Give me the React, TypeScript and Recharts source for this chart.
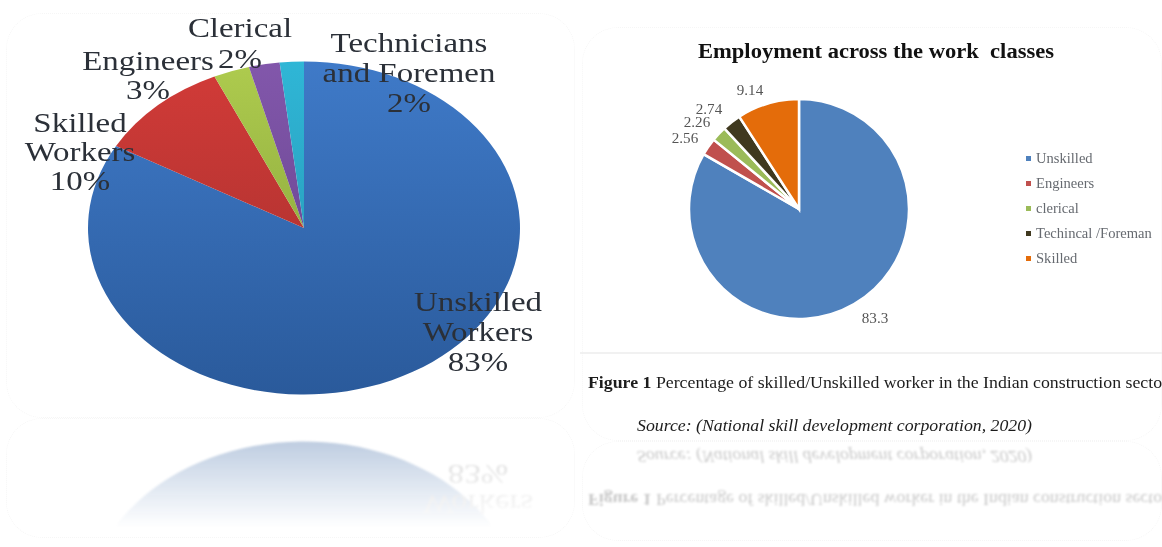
import React from 'react';
import { Cell, Legend, Pie, PieChart } from 'recharts';

const W = 1162;
const H = 547;
const SERIF = '"Liberation Serif", serif';

// left picture, clockwise from 12 o'clock. printed labels are rounded
const leftNames = ['Unskilled Workers', 'Skilled Workers', 'Engineers', 'Clerical', 'Technicians and Foremen'];
const leftValues = [83.2, 10, 2.7, 2.3, 1.8];
const leftLines = [
	['Unskilled', 'Workers', '83%'],
	['Skilled', 'Workers', '10%'],
	['Engineers', '3%'],
	['Clerical', '2%'],
	['Technicians', 'and Foremen', '2%'],
];
const leftTop = ['#3f7ac8', '#d23b38', '#aecb4e', '#8257ab', '#2fb6d6'];
const leftBottom = ['#2a5a9b', '#a02e2c', '#7d9a36', '#5f3f86', '#2590ad'];

// right picture
const rightNames = ['Unskilled', 'Engineers', 'clerical', 'Techincal /Foreman', 'Skilled'];
const rightValues = [83.3, 2.56, 2.26, 2.74, 9.14];
const rightColors = ['#4f81bd', '#c0504d', '#9bbb59', '#40391f', '#e46c0a'];

const leftData = leftNames.map((name, i) => ({ name, value: leftValues[i] }));
const rightData = rightNames.map((name, i) => ({ name, value: rightValues[i] }));

// where each wrapped label sits: centre x, first baseline, line step
const leftSpots = [
	[478, 311, 30],
	[80, 132, 29],
	[148, 70, 29],
	[240, 37, 31],
	[409, 52, 30],
];
const rightSpots = [
	[875, 323],
	[685, 143],
	[697, 127],
	[709, 114],
	[750, 95],
];

const SQUASH = 0.771;

// pie looks tilted in the source, so slices are drawn as ellipse sectors
function EllipseSlice(props: any) {
	const { cx, cy, outerRadius, startAngle, endAngle, fill } = props;
	const rx = outerRadius;
	const ry = outerRadius * SQUASH;
	const rad = Math.PI / 180;
	const x1 = cx + rx * Math.cos(startAngle * rad);
	const y1 = cy - ry * Math.sin(startAngle * rad);
	const x2 = cx + rx * Math.cos(endAngle * rad);
	const y2 = cy - ry * Math.sin(endAngle * rad);
	const large = Math.abs(startAngle - endAngle) > 180 ? 1 : 0;
	return <path d={`M${cx} ${cy} L${x1} ${y1} A${rx} ${ry} 0 ${large} 1 ${x2} ${y2} Z`} fill={fill} />;
}

function LeftLabel(props: any) {
	const [x, y, step] = leftSpots[props.index];
	return (
		<g>
			{leftLines[props.index].map((line, i) => (
				<text
					key={line}
					transform={`translate(${x},${y + i * step}) scale(1.22,1)`}
					textAnchor="middle"
					fontFamily={SERIF}
					fontSize={27}
					fill="#2b3038"
				>
					{line}
				</text>
			))}
		</g>
	);
}

// the reflection only shows the bottom label, and only its last two lines
function MirrorLabel(props: any) {
	if (props.index !== 0) return null;
	const [x, y, step] = leftSpots[0];
	return (
		<g>
			{leftLines[0].slice(1).map((line, i) => (
				<text
					key={line}
					transform={`translate(${x},${y + (i + 1) * step}) scale(1.22,1)`}
					textAnchor="middle"
					fontFamily={SERIF}
					fontSize={27}
					fill="#777"
				>
					{line}
				</text>
			))}
		</g>
	);
}

function RightLabel(props: any) {
	const [x, y] = rightSpots[props.index];
	return (
		<text
			transform={`translate(${x},${y}) scale(1.08,1)`}
			textAnchor="middle"
			fontFamily={SERIF}
			fontSize={14}
			fill="#555"
		>
			{rightValues[props.index]}
		</text>
	);
}

function LeftChart(props: { mirror?: boolean }) {
	return (
		<PieChart width={W} height={H} margin={{ top: 0, right: 0, bottom: 0, left: 0 }}>
			<defs>
				{leftTop.map((c, i) => (
					<linearGradient key={c} id={`lg${i}`} gradientUnits="userSpaceOnUse" x1="0" y1="62" x2="0" y2="395">
						<stop offset="0%" stopColor={c} />
						<stop offset="100%" stopColor={leftBottom[i]} />
					</linearGradient>
				))}
			</defs>
			<Pie
				data={leftData}
				dataKey="value"
				nameKey="name"
				cx={304}
				cy={228}
				innerRadius={0}
				outerRadius={216}
				startAngle={90}
				endAngle={-270}
				stroke="none"
				shape={EllipseSlice}
				label={props.mirror ? MirrorLabel : LeftLabel}
				labelLine={false}
				isAnimationActive={false}
			>
				{leftData.map((d, i) => (
					<Cell key={d.name} fill={`url(#lg${i})`} />
				))}
			</Pie>
		</PieChart>
	);
}

function RightLegend(props: any) {
	return (
		<div style={{ fontFamily: SERIF }}>
			{props.payload.map((item: any, i: number) => (
				<div key={item.value} style={{ height: 25, display: 'flex', alignItems: 'center', whiteSpace: 'nowrap' }}>
					<span style={{ width: 5, height: 5, background: rightColors[i], marginRight: 5 }} />
					<span style={{ fontSize: 14, color: '#666a70', transform: 'scaleX(1.04)', transformOrigin: 'left center' }}>
						{item.value}
					</span>
				</div>
			))}
		</div>
	);
}

function Caption() {
	return (
		<g fontFamily={SERIF} fontSize={16} fill="#1c1c1c">
			<text x={588} y={388} textLength={580} lengthAdjust="spacingAndGlyphs">
				<tspan fontWeight="bold">Figure 1</tspan> Percentage of skilled/Unskilled worker in the Indian construction sector
			</text>
			<text x={637} y={431} fontStyle="italic" textLength={395} lengthAdjust="spacingAndGlyphs">
				Source: (National skill development corporation, 2020)
			</text>
		</g>
	);
}

function RightChart() {
	return (
		<PieChart width={W} height={H} margin={{ top: 0, right: 0, bottom: 0, left: 0 }}>
			<text
				x={698}
				y={58}
				fontFamily={SERIF}
				fontWeight="bold"
				fontSize={20}
				fill="#111"
				textLength={356}
				lengthAdjust="spacingAndGlyphs"
				style={{ whiteSpace: 'pre' }}
			>
				Employment across the work  classes
			</text>
			<line x1={580} y1={353} x2={W} y2={353} stroke="#ececec" strokeWidth={1.5} />
			<Caption />
			<Pie
				data={rightData}
				dataKey="value"
				nameKey="name"
				cx={799}
				cy={209}
				innerRadius={0}
				outerRadius={110}
				startAngle={90}
				endAngle={-270}
				stroke="#fff"
				strokeWidth={2.5}
				label={RightLabel}
				labelLine={false}
				isAnimationActive={false}
			>
				{rightData.map((d, i) => (
					<Cell key={d.name} fill={rightColors[i]} />
				))}
			</Pie>
			<Legend
				layout="vertical"
				align="right"
				verticalAlign="top"
				itemSorter={null}
				wrapperStyle={{ left: 1026, top: 146, width: 136, right: 'auto' }}
				content={RightLegend}
			/>
		</PieChart>
	);
}

function Panel(props: { left: number; top: number; width: number; height: number }) {
	return (
		<div
			style={{
				position: 'absolute',
				...props,
				boxSizing: 'border-box',
				border: '1px dotted #f6f6f6',
				borderRadius: 36,
			}}
		/>
	);
}

export default function App() {
	return (
		<div style={{ position: 'absolute', left: 0, top: 0, width: W, height: H, overflow: 'hidden', background: '#fff' }}>
			<Panel left={6} top={13} width={569} height={405} />
			<Panel left={6} top={418} width={569} height={120} />
			<Panel left={582} top={27} width={580} height={414} />
			<Panel left={582} top={441} width={580} height={100} />

			<div style={{ position: 'absolute', left: 0, top: 0, filter: 'blur(0.5px)' }}>
				<LeftChart />
			</div>
			<div style={{ position: 'absolute', left: 0, top: 0, filter: 'blur(0.5px)' }}>
				<RightChart />
			</div>

			{/* reflections under both pictures */}
			<div
				style={{
					position: 'absolute',
					left: 0,
					top: 0,
					transformOrigin: '0 418px',
					transform: 'scaleY(-1)',
					opacity: 0.3,
					filter: 'blur(1.2px)',
					maskImage: 'linear-gradient(to bottom, transparent 308px, black 395px)',
					WebkitMaskImage: 'linear-gradient(to bottom, transparent 308px, black 395px)',
				}}
			>
				<LeftChart mirror />
			</div>
			<svg
				width={W}
				height={H}
				style={{
					position: 'absolute',
					left: 0,
					top: 0,
					transformOrigin: '0 441px',
					transform: 'scaleY(-1)',
					opacity: 0.25,
					filter: 'blur(0.8px)',
				}}
			>
				<Caption />
			</svg>
		</div>
	);
}
